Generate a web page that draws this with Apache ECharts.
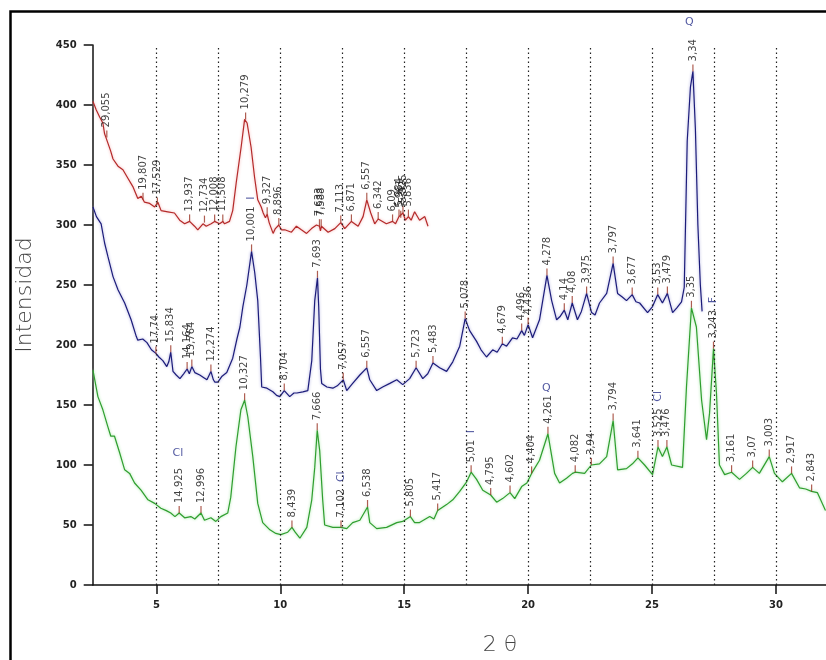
<!DOCTYPE html>
<html>
<head>
<meta charset="utf-8">
<script src="https://cdn.jsdelivr.net/npm/echarts@6/dist/echarts.min.js"></script>
<style>html,body{margin:0;padding:0;background:#fff}#c{width:826px;height:660px}</style>
</head>
<body>
<div id="c"></div>
<script>
// ---- data (2θ, intensity) ----
const redTrace = [[2.44,403],[2.57,396],[2.71,390],[2.84,385],[2.91,376],[2.98,372],[3.04,373],[3.15,362],[3.25,355],[3.45,349],[3.65,346],[3.85,339],[4.05,332],[4.25,322],[4.39,324],[4.52,319],[4.73,318],[4.93,315],[5.06,319],[5.19,312],[5.46,311],[5.73,310],[5.94,304],[6.14,301],[6.34,303],[6.54,299],[6.67,296],[6.88,301],[7.01,299],[7.21,301],[7.35,303],[7.55,301],[7.68,303],[7.75,301],[7.95,303],[8.08,312],[8.22,335],[8.42,365],[8.56,388],[8.66,385],[8.82,365],[8.96,340],[9.09,321],[9.23,315],[9.31,310],[9.40,306],[9.47,309],[9.55,302],[9.71,293],[9.80,297],[9.94,300],[10.05,296],[10.18,296],[10.45,294],[10.65,299],[10.85,296],[11.06,293],[11.26,297],[11.46,300],[11.58,299],[11.62,295],[11.66,299],[11.93,294],[12.2,297],[12.44,302],[12.6,297],[12.87,303],[12.94,302],[13.14,299],[13.34,307],[13.49,321],[13.65,310],[13.81,301],[13.95,305],[14.01,306],[14.28,301],[14.53,303],[14.65,301],[14.79,307],[14.86,306],[14.95,310],[15.05,304],[15.17,307],[15.28,304],[15.42,311],[15.62,304],[15.83,307],[15.96,299]];

const blueTrace = [[2.44,315],[2.58,307],[2.77,301],[2.91,285],[3.04,274],[3.25,257],[3.45,246],[3.72,235],[3.98,221],[4.19,207],[4.25,204],[4.45,205],[4.62,202],[4.80,196],[4.98,193],[5.10,190],[5.26,187],[5.42,182],[5.50,186],[5.58,194],[5.67,178],[5.80,175],[5.95,172],[6.10,176],[6.24,180],[6.33,176],[6.43,182],[6.55,177],[6.75,175],[6.90,173],[7.04,171],[7.20,178],[7.30,171],[7.36,169],[7.48,169],[7.65,174],[7.84,177],[8.08,189],[8.25,205],[8.37,215],[8.49,232],[8.65,250],[8.84,278],[8.97,260],[9.09,237],[9.20,190],[9.25,165],[9.46,164],[9.70,161],[9.85,158],[9.98,157],[10.16,162],[10.38,157],[10.55,160],[10.67,160],[10.91,161],[11.11,162],[11.27,187],[11.39,237],[11.50,256],[11.55,232],[11.62,180],[11.67,168],[11.88,165],[12.12,164],[12.30,166],[12.54,171],[12.68,162],[12.92,168],[13.21,175],[13.49,181],[13.61,171],[13.89,162],[14.13,165],[14.42,168],[14.70,171],[14.94,167],[15.22,172],[15.48,181],[15.75,172],[15.95,176],[16.16,185],[16.43,181],[16.71,178],[16.96,186],[17.24,199],[17.46,222],[17.64,212],[17.92,203],[18.10,196],[18.32,190],[18.57,196],[18.75,194],[18.96,201],[19.13,199],[19.37,206],[19.55,205],[19.74,212],[19.85,208],[20.0,217],[20.18,206],[20.46,221],[20.76,258],[20.95,237],[21.15,221],[21.30,224],[21.46,229],[21.60,221],[21.78,235],[21.99,221],[22.15,228],[22.36,243],[22.56,227],[22.70,225],[22.88,235],[23.17,243],[23.43,268],[23.61,243],[23.80,240],[23.97,237],[24.20,242],[24.35,236],[24.50,235],[24.82,227],[25.02,232],[25.23,242],[25.42,235],[25.62,243],[25.83,227],[26.0,231],[26.19,236],[26.30,248],[26.42,370],[26.55,415],[26.65,428],[26.75,380],[26.85,300],[26.95,250],[27.02,228]];

const greenTrace = [[2.44,179],[2.64,157],[2.84,146],[3.04,132],[3.16,124],[3.31,124],[3.52,110],[3.72,96],[3.92,93],[4.12,85],[4.38,79],[4.66,71],[4.93,68],[5.18,64],[5.40,62],[5.58,60],[5.75,57],[5.92,60],[6.14,56],[6.39,57],[6.55,55],[6.80,60],[6.94,54],[7.20,56],[7.40,53],[7.60,57],[7.88,60],[8.00,73],[8.21,115],[8.41,146],[8.56,154],[8.69,140],[8.89,107],[9.09,68],[9.29,52],[9.58,46],[9.82,43],[10.02,42],[10.30,44],[10.47,48],[10.60,44],[10.79,39],[11.07,48],[11.27,71],[11.39,98],[11.49,129],[11.59,112],[11.71,71],[11.79,50],[12.12,48],[12.45,48],[12.68,47],[12.92,52],[13.21,54],[13.52,65],[13.61,52],[13.89,47],[14.29,48],[14.70,52],[14.94,53],[15.25,57],[15.42,52],[15.62,52],[16.03,57],[16.20,55],[16.35,62],[16.71,67],[16.96,71],[17.24,78],[17.52,86],[17.70,94],[17.92,88],[18.17,79],[18.49,75],[18.73,69],[18.97,72],[19.27,77],[19.46,72],[19.74,82],[19.95,85],[20.14,93],[20.46,104],[20.80,126],[21.07,93],[21.27,85],[21.55,89],[21.79,93],[21.9,94],[22.28,93],[22.55,100],[22.88,101],[23.17,107],[23.43,137],[23.61,96],[23.97,97],[24.21,101],[24.43,106],[24.70,100],[25.02,92],[25.24,115],[25.42,107],[25.60,115],[25.79,100],[26.23,98],[26.39,165],[26.59,231],[26.79,215],[27.00,154],[27.20,121],[27.32,143],[27.48,197],[27.60,160],[27.72,100],[27.93,92],[28.21,94],[28.53,88],[28.81,93],[29.06,98],[29.33,93],[29.73,107],[29.94,93],[30.26,86],[30.63,93],[30.95,81],[31.20,80],[31.44,78],[31.67,77],[32.0,62]];

// peak annotations: [2θ, intensity, d-spacing label, mineral tag]
const redPeaks = [[3.0,373,"29,055",""],[4.46,321,"19,807",""],[5.04,317,"17,529",""],[6.34,303,"13,937",""],[6.94,302,"12,734",""],[7.35,303,"12,008",""],[7.68,303,"11,508",""],[8.60,388,"10,279",""],[9.47,309,"9,327",""],[9.94,300,"8,896",""],[11.58,299,"7,633",""],[11.65,299,"7,588",""],[12.44,302,"7,113",""],[12.87,303,"6,871",""],[13.49,321,"6,557",""],[13.95,305,"6,342",""],[14.53,303,"6,09",""],[14.79,307,"5,984",""],[14.86,306,"5,961",""],[14.95,310,"5,925",""],[15.17,307,"5,836",""]];

const bluePeaks = [[4.98,193,"17,74",""],[5.58,194,"15,834",""],[6.24,180,"14,164",""],[6.43,182,"13,764",""],[7.20,178,"12,274",""],[8.84,278,"10,001","I"],[10.16,162,"8,704",""],[11.50,256,"7,693",""],[12.54,171,"7,057",""],[13.49,181,"6,557",""],[15.48,181,"5,723",""],[16.16,185,"5,483",""],[17.46,222,"5,078",""],[18.96,201,"4,679",""],[19.74,212,"4,496",""],[20.0,217,"4,436",""],[20.76,258,"4,278",""],[21.46,229,"4,14",""],[21.78,235,"4,08",""],[22.36,243,"3,975",""],[23.43,268,"3,797",""],[24.20,242,"3,677",""],[25.23,242,"3,53",""],[25.62,243,"3,479",""],[26.65,428,"3,34",""]];

const greenPeaks = [[5.92,60,"14,925",""],[6.80,60,"12,996",""],[8.56,154,"10,327",""],[10.47,48,"8,439",""],[11.49,129,"7,666",""],[12.45,48,"7,102","Cl"],[13.52,65,"6,538",""],[15.25,57,"5,805",""],[16.35,62,"5,417",""],[17.70,94,"5,01","I"],[18.49,75,"4,795",""],[19.27,77,"4,602",""],[20.14,93,"4,404",""],[20.80,126,"4,261",""],[21.9,94,"4,082",""],[22.55,100,"3,94",""],[23.43,137,"3,794",""],[24.43,106,"3,641",""],[25.24,115,"3,525","Cl"],[25.60,115,"3,476",""],[26.59,231,"3,35",""],[27.48,197,"3,243","F"],[28.21,94,"3,161",""],[29.06,98,"3,07",""],[29.73,107,"3,003",""],[30.63,93,"2,917",""],[31.44,78,"2,843",""]];

// upright mineral tags: [2θ, intensity, text]
const mineralTags = [[26.51,469,"Q"],[20.73,164,"Q"],[5.87,110,"Cl"]];

const gridLines = [5,7.5,10,12.5,15,17.5,20,22.5,25,27.5,30];
const xTicks = [5,10,15,20,25,30];

const chart = echarts.init(document.getElementById('c'));

function lineSeries(name, data, color, glow){
  return {
    name, type:'line', data, symbol:'none', smooth:false, z:3,
    lineStyle:{color, width:1.2, shadowColor:glow, shadowBlur:3},
    animation:false
  };
}
function peakSeries(data){
  return {
    type:'scatter', data, z:5, animation:false, silent:true,
    symbol:'rect', symbolSize:[1.2,7], symbolOffset:[0,-3.5],
    itemStyle:{color:'#9a3526'},
    label:{
      show:true, position:'top', distance:3, rotate:90, align:'left', verticalAlign:'middle',
      formatter:p=> p.data[3] ? '{d|'+p.data[2]+'}  {m|'+p.data[3]+'}' : '{d|'+p.data[2]+'}',
      rich:{
        d:{fontFamily:'DejaVu Sans', fontSize:10, color:'#111'},
        m:{fontFamily:'DejaVu Sans', fontSize:11, color:'#27308a'}
      }
    }
  };
}

const option = {
  backgroundColor:'#fff',
  animation:false,
  grid:{left:92.7, right:0, top:45, bottom:75, containLabel:false},
  xAxis:{
    type:'value', min:2.43, max:32.02,
    axisLine:{show:true, lineStyle:{color:'#111', width:1.5}},
    axisTick:{show:true, customValues:xTicks, length:9, lineStyle:{color:'#111', width:1.5}},
    axisLabel:{customValues:xTicks, margin:15, fontFamily:'DejaVu Sans', fontWeight:'bold', fontSize:10, color:'#222'},
    splitLine:{show:false}
  },
  yAxis:{
    type:'value', min:0, max:450, interval:50,
    axisLine:{show:true, lineStyle:{color:'#111', width:1.5}},
    axisTick:{show:true, length:9, lineStyle:{color:'#111', width:1.5}},
    axisLabel:{margin:16, fontFamily:'DejaVu Sans', fontWeight:'bold', fontSize:10, color:'#222'},
    splitLine:{show:false}
  },
  series:[
    Object.assign(lineSeries('green', greenTrace, '#2f9e2f', '#9be39b'), {
      markLine:{
        silent:true, symbol:'none', animation:false,
        label:{show:false},
        lineStyle:{type:[1.5,3], color:'#222', width:1.2},
        data: gridLines.map(v=>({xAxis:v}))
      }
    }),
    lineSeries('blue', blueTrace, '#1c1c7a', '#a0a0d8'),
    lineSeries('red', redTrace, '#b42a2a', '#f2aaaa'),
    peakSeries(redPeaks),
    peakSeries(bluePeaks),
    peakSeries(greenPeaks),
    {
      type:'scatter', data:mineralTags, symbolSize:0, clip:false, silent:true, z:6, animation:false,
      label:{show:true, position:'inside', formatter:p=>p.data[2], fontFamily:'DejaVu Sans', fontSize:11, color:'#27308a'}
    }
  ],
  graphic:[
    {type:'rect', shape:{x:10.5, y:11.5, width:900, height:760}, style:{fill:'none', stroke:'#000', lineWidth:2.5}, silent:true},
    {type:'text', x:25, y:295, rotation:Math.PI/2, style:{text:'Intensidad', font:'300 22px "DejaVu Sans"', fill:'#444', align:'center', verticalAlign:'middle'}},
    {type:'text', x:500, y:645, style:{text:'2 θ', font:'300 22px "DejaVu Sans"', fill:'#444', align:'center', verticalAlign:'middle'}}
  ]
};
chart.setOption(option);
</script>
</body>
</html>
